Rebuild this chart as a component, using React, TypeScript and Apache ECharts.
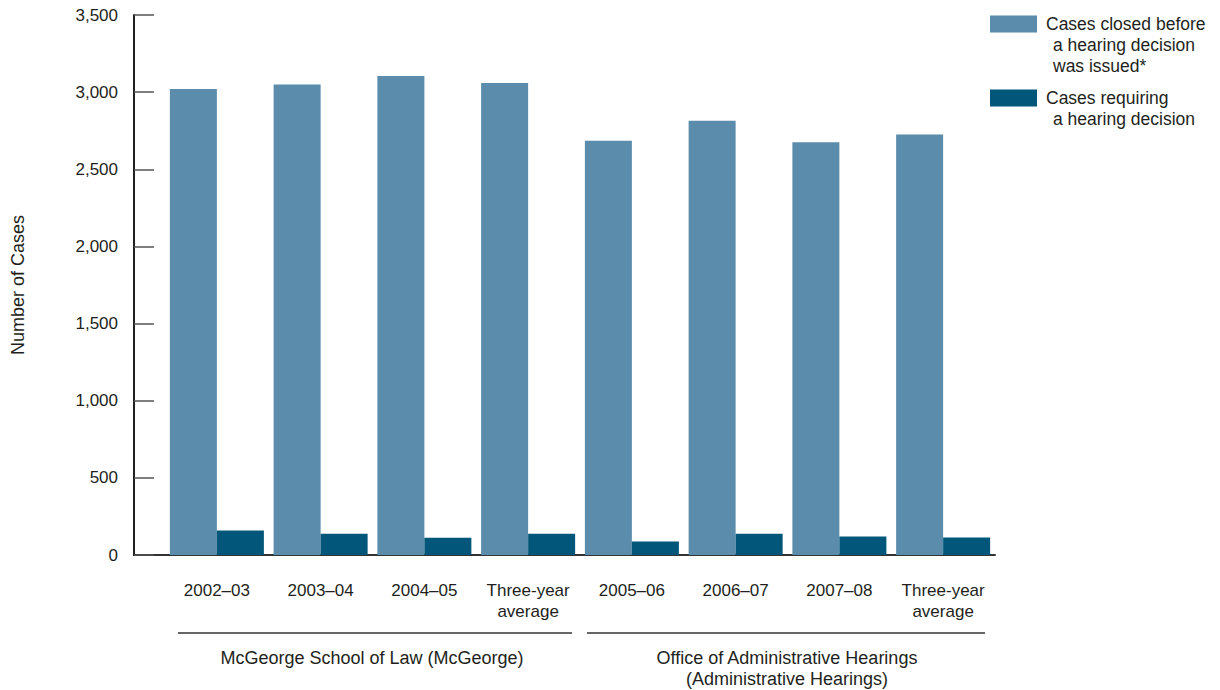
import React, { useEffect, useRef } from "react";
import * as echarts from "echarts";

const categories = ["2002–03", "2003–04", "2004–05", "Three-year\naverage", "2005–06", "2006–07", "2007–08", "Three-year\naverage"];
const closedBefore = [3020, 3050, 3105, 3060, 2685, 2815, 2675, 2725];
const requiringDecision = [158, 138, 112, 138, 87, 138, 120, 113];
const seriesNames = ["Cases closed before a hearing decision was issued*", "Cases requiring a hearing decision"];
const legendFirstLines = ["Cases closed before", "Cases requiring"];
const legendMoreLines = ["a hearing decision\nwas issued*", "a hearing decision"];
const groupLabels = ["McGeorge School of Law (McGeorge)", "Office of Administrative Hearings\n(Administrative Hearings)"];
const yTicks = { min: 0, max: 3500, interval: 500 };

const FONT = "'Liberation Sans', Arial, sans-serif";
const TEXT = "#231f20";
const LIGHT = "#5b8cab";
const DARK = "#01567a";

export default function App() {
  const ref = useRef<HTMLDivElement>(null);
  useEffect(() => {
    if (!ref.current) return;
    const chart = echarts.init(ref.current, null, { renderer: "svg" });
    chart.setOption({
      animation: false,
      textStyle: { fontFamily: FONT },
      legend: {
        left: 990,
        top: 15,
        padding: 0,
        orient: "vertical",
        itemWidth: 47,
        itemHeight: 17,
        itemGap: 56,
        icon: "rect",
        data: seriesNames,
        formatter: (name: string) => legendFirstLines[seriesNames.indexOf(name)],
        selectedMode: false,
        textStyle: {
          fontFamily: FONT,
          fontSize: 17.5,
          color: TEXT,
          padding: [0, 0, 0, 4],
        },
      },
      grid: { left: 165, right: 225, top: 15, bottom: 135, containLabel: false },
      xAxis: {
        type: "category",
        data: categories,
        axisLine: { show: true, lineStyle: { color: "#333", width: 2 } },
        axisTick: { show: false },
        axisLabel: {
          fontFamily: FONT,
          fontSize: 17,
          color: TEXT,
          margin: 25,
          lineHeight: 21,
          interval: 0,
        },
      },
      yAxis: {
        type: "value",
        min: yTicks.min,
        max: yTicks.max,
        interval: yTicks.interval,
        offset: 31,
        name: "Number of Cases",
        nameLocation: "middle",
        nameRotate: 90,
        nameGap: 107,
        nameTextStyle: { fontFamily: FONT, fontSize: 18, color: TEXT },
        axisLine: { show: true, lineStyle: { color: TEXT, width: 2 } },
        axisTick: { show: true, inside: true, length: 20, lineStyle: { color: "#555", width: 1.5 } },
        splitLine: { show: false },
        axisLabel: {
          fontFamily: FONT,
          fontSize: 17,
          color: TEXT,
          margin: 16,
          formatter: (v: number) => v.toLocaleString("en-US"),
        },
      },
      series: [
        {
          name: seriesNames[0],
          type: "bar",
          data: closedBefore,
          barWidth: 47,
          barGap: "0%",
          itemStyle: { color: LIGHT },
        },
        {
          name: seriesNames[1],
          type: "bar",
          data: requiringDecision,
          barWidth: 47,
          barGap: "0%",
          itemStyle: { color: DARK },
        },
      ],
      graphic: [
        { type: "line", shape: { x1: 133, y1: 555, x2: 166, y2: 555 }, style: { stroke: "#333", lineWidth: 2 } },
        { type: "line", shape: { x1: 178, y1: 633, x2: 572, y2: 633 }, style: { stroke: "#333", lineWidth: 1.5 } },
        { type: "line", shape: { x1: 587, y1: 633, x2: 985, y2: 633 }, style: { stroke: "#333", lineWidth: 1.5 } },
        {
          type: "text",
          x: 372,
          y: 647,
          style: { text: groupLabels[0], font: `18px ${FONT}`, fill: TEXT, align: "center", verticalAlign: "top", lineHeight: 21 },
        },
        {
          type: "text",
          x: 787,
          y: 647,
          style: { text: groupLabels[1], font: `18px ${FONT}`, fill: TEXT, align: "center", verticalAlign: "top", lineHeight: 21 },
        },
        {
          type: "text",
          x: 1053,
          y: 34,
          style: { text: legendMoreLines[0], font: `17.5px ${FONT}`, fill: TEXT, align: "left", verticalAlign: "top", lineHeight: 21.5 },
        },
        {
          type: "text",
          x: 1053,
          y: 108,
          style: { text: legendMoreLines[1], font: `17.5px ${FONT}`, fill: TEXT, align: "left", verticalAlign: "top", lineHeight: 21.5 },
        },
      ],
    });
    return () => chart.dispose();
  }, []);
  return <div ref={ref} style={{ position: "absolute", left: 0, top: 0, width: 1220, height: 690 }} />;
}
